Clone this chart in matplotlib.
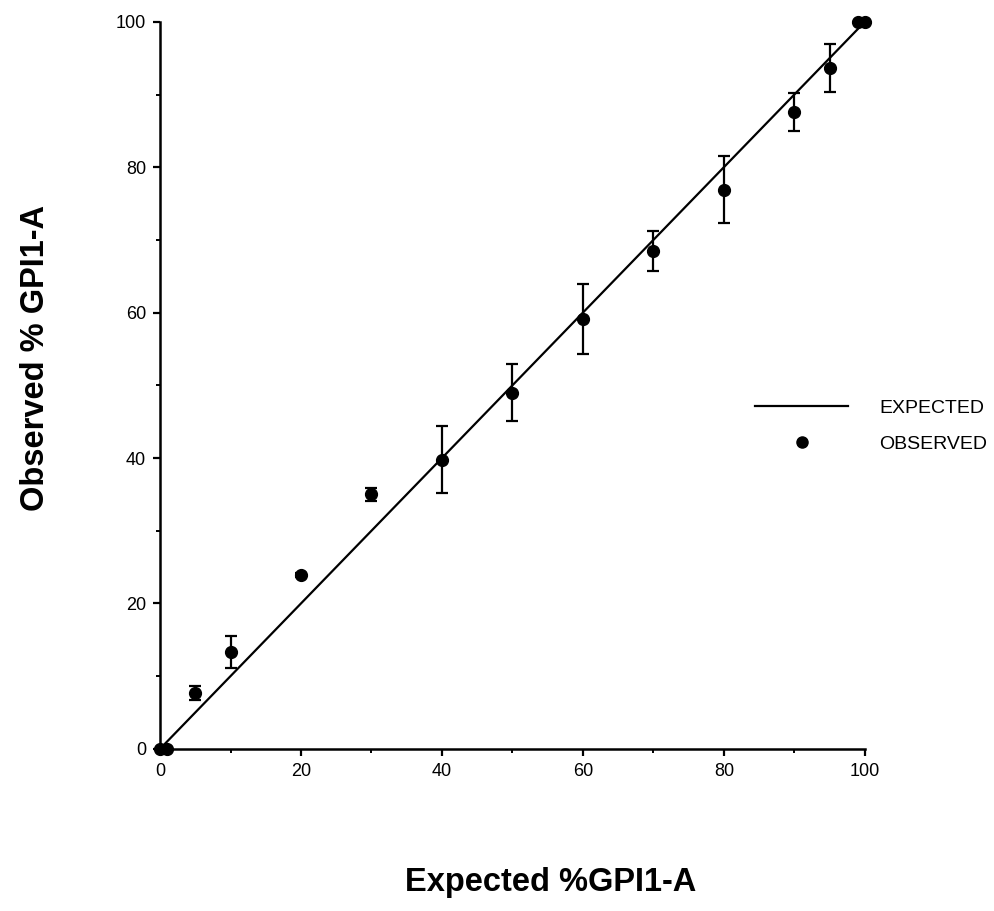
import numpy as np
import matplotlib.pyplot as plt
from matplotlib.lines import Line2D
from matplotlib.ticker import MultipleLocator

# expected vs observed % GPI1-A
expected = [0, 1, 5, 10, 20, 30, 40, 50, 60, 70, 80, 90, 95, 99, 100]
observed = [0, 0, 7.7, 13.3, 23.9, 35.0, 39.8, 49.0, 59.1, 68.5, 76.9, 87.6, 93.6, 100, 100]
errors = [0, 0, 1.0, 2.2, 0.3, 0.9, 4.6, 3.9, 4.8, 2.8, 4.6, 2.6, 3.3, 0, 0]
line_x = [0, 100]
line_y = [0, 100]

plt.rcParams['font.family'] = ['Liberation Sans', 'DejaVu Sans']

fig = plt.figure(figsize=(9.94, 9.11), dpi=100)
ax = fig.add_axes([0.161, 0.178, 0.709, 0.798])

ax.plot(line_x, line_y, color="black", linewidth=1.6, clip_on=False)
ax.errorbar(expected, observed, yerr=errors, fmt="o", color="black",
            markersize=8.5, elinewidth=1.6, capsize=4.5, capthick=1.6, clip_on=False)

ax.set_xlim(0, 100)
ax.set_ylim(0, 100)
ax.spines["top"].set_visible(False)
ax.spines["right"].set_visible(False)
for s in ("left", "bottom"):
    ax.spines[s].set_linewidth(1.8)
ax.xaxis.set_major_locator(MultipleLocator(20))
ax.yaxis.set_major_locator(MultipleLocator(20))
ax.xaxis.set_minor_locator(MultipleLocator(10))
ax.yaxis.set_minor_locator(MultipleLocator(10))
ax.tick_params(which="major", direction="out", length=5, width=1.6, labelsize=13, pad=5)
ax.tick_params(which="minor", direction="out", length=3, width=1.4)

fig.text(0.036, 0.607, "Observed % GPI1-A", rotation=90, ha="center", va="center",
         fontsize=23.5, fontweight="bold")
fig.text(0.554, 0.031, "Expected %GPI1-A", ha="center", va="center",
         fontsize=23.5, fontweight="bold")

handles = [Line2D([], [], color="black", linewidth=1.6),
           Line2D([], [], linestyle="none", marker="o", color="black", markersize=8)]
fig.legend(handles, ["EXPECTED", "OBSERVED"], loc="upper left",
           bbox_to_anchor=(755 / 994, 1 - 399 / 911), frameon=False,
           borderpad=0, borderaxespad=0, handlelength=4.8, handletextpad=1.6,
           labelspacing=0.95,
           prop={"family": ["Liberation Sans Narrow", "Liberation Sans"], "size": 14})

plt.savefig("out.png", dpi=100)
